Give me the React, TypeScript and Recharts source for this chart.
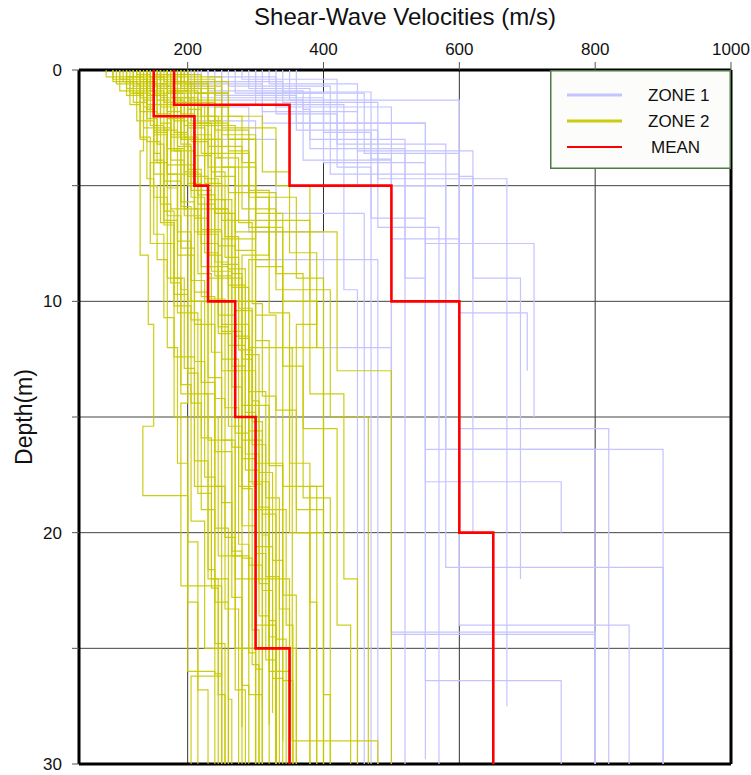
import React from 'react';
import { ScatterChart, Scatter, XAxis, YAxis, ReferenceLine, Legend } from 'recharts';

// each profile: [velocity (m/s), bottom depth of layer (m)], layers start at 0 m
const zone1Profiles: number[][][] = [
  [[210, 0.6], [310, 2.3], [550, 6.8], [570, 30]],
  [[230, 0.9], [370, 1.7], [380, 3.4], [430, 9.5], [450, 30]],
  [[250, 1.3], [370, 3.9], [500, 7.3], [600, 15.5], [820, 30]],
  [[270, 1.0], [400, 2.7], [470, 6.4], [550, 16.4], [800, 30]],
  [[300, 1.5], [430, 3.4], [520, 9.0], [550, 17.8], [750, 20]],
  [[320, 0.6], [450, 3.5], [620, 20]],
  [[340, 1.4], [480, 4.7], [670, 27.5]],
  [[360, 2.3], [550, 7.5], [710, 15]],
  [[200, 0.5], [340, 0.95], [470, 3.85], [500, 24.3], [800, 30]],
  [[220, 1.2], [400, 4.0], [500, 24.4], [800, 30]],
  [[290, 0.8], [380, 3.0], [520, 30]],
  [[310, 1.8], [450, 5.0], [580, 21.5], [900, 30]],
  [[260, 0.7], [410, 4.5], [600, 24], [850, 30]],
  [[240, 1.1], [360, 2.6], [480, 6.8], [550, 26.4], [750, 30]],
  [[330, 1.6], [500, 4.0], [550, 29.8]],
  [[280, 0.4], [420, 3.2], [580, 16.4], [900, 30]],
  [[300, 1.0], [460, 3.6], [600, 10.5], [700, 13]],
  [[230, 0.3], [330, 1.9], [420, 4.2], [470, 30]],
  [[205, 2.2], [300, 8.2], [480, 30]],
  [[215, 1.6], [290, 7.0], [400, 12], [500, 30]],
  [[250, 3.0], [330, 6.2], [460, 30]],
  [[350, 1.3], [600, 4.6], [620, 9], [690, 22]],
];

const zone2Profiles: number[][][] = [
  [[80, 0.3], [120, 1.0], [135, 3.5], [130, 8], [142, 11], [150, 15.4], [134, 18.4], [200, 26], [240, 30]],
  [[90, 0.5], [125, 2.2], [150, 5.5], [170, 9], [190, 14], [230, 22], [260, 30]],
  [[100, 0.4], [140, 1.5], [160, 4.0], [145, 7.5], [180, 12.4], [210, 18], [250, 30]],
  [[110, 0.8], [150, 2.5], [175, 6], [200, 10], [230, 16], [270, 25], [300, 30]],
  [[120, 0.3], [160, 1.2], [190, 3], [210, 7], [250, 11], [290, 19], [330, 30]],
  [[95, 0.6], [130, 1.8], [155, 3.2], [165, 6.5], [185, 10.5], [215, 15], [245, 21], [280, 30]],
  [[130, 0.5], [150, 2.0], [170, 4.5], [220, 8.5], [260, 13], [300, 22], [350, 30]],
  [[140, 0.7], [175, 2.8], [200, 5.0], [230, 9.0], [280, 14.5], [320, 25], [360, 30]],
  [[150, 1.0], [180, 3.5], [210, 6.0], [260, 10], [300, 17], [340, 29]],
  [[160, 0.4], [185, 1.5], [230, 4.2], [300, 7.0], [420, 13], [500, 30]],
  [[170, 0.9], [200, 2.3], [260, 5.3], [330, 9.5], [410, 15], [466, 30]],
  [[175, 1.2], [215, 3.0], [250, 6.5], [380, 10], [390, 12], [350, 20], [380, 30]],
  [[180, 0.5], [230, 2.0], [280, 4.0], [300, 7.3], [250, 13], [270, 22], [300, 30]],
  [[190, 0.8], [240, 2.6], [290, 5.5], [320, 8], [280, 16], [310, 30]],
  [[200, 1.3], [250, 3.8], [240, 6.2], [270, 11.5], [290, 17.8], [320, 26], [350, 30]],
  [[185, 0.2], [220, 1.0], [260, 3.0], [300, 6.8], [340, 12], [354, 29], [480, 30]],
  [[145, 0.3], [165, 1.4], [180, 2.7], [200, 4.6], [230, 8], [250, 12.5], [275, 18], [300, 24], [330, 30]],
  [[105, 0.5], [140, 1.7], [150, 3.6], [160, 5.8], [175, 9.2], [190, 13.6], [205, 19.5], [225, 25], [250, 30]],
  [[115, 1.0], [145, 2.4], [165, 4.8], [190, 7.7], [210, 11], [240, 16.5], [265, 21], [290, 27], [310, 30]],
  [[125, 0.6], [155, 2.0], [175, 3.9], [195, 6.3], [220, 9.8], [240, 14.2], [255, 20.2], [270, 26.8], [285, 30]],
  [[135, 0.4], [160, 1.6], [185, 3.3], [205, 5.2], [235, 8.7], [265, 12.8], [285, 17.3], [305, 23.6], [320, 30]],
  [[155, 0.8], [170, 2.1], [195, 4.4], [215, 7.1], [245, 10.6], [270, 15.7], [290, 21.4], [310, 27.5]],
  [[165, 0.5], [190, 1.9], [210, 3.7], [235, 6.0], [260, 9.3], [285, 14.8], [300, 20.6], [325, 26.3], [340, 30]],
  [[100, 0.9], [130, 2.9], [145, 5.0], [155, 8.2], [170, 12], [185, 17], [200, 23], [215, 30]],
  [[120, 1.4], [140, 3.1], [160, 6.6], [180, 10.2], [205, 14.4], [220, 19], [240, 24.8], [255, 30]],
  [[140, 1.1], [170, 3.4], [190, 5.7], [210, 9.6], [230, 13.3], [250, 18.7], [265, 22.8], [280, 28.4]],
  [[150, 0.2], [175, 0.9], [200, 2.5], [225, 4.9], [250, 8.4], [275, 12.1], [295, 16.2], [315, 21.9], [335, 30]],
  [[110, 0.3], [135, 1.3], [150, 2.6], [170, 4.1], [185, 7.4], [205, 10.8], [220, 15.9], [235, 22.4], [245, 30]],
  [[130, 0.9], [150, 2.7], [170, 5.1], [185, 8.0], [210, 12.6], [225, 17.6], [240, 23], [260, 27.2], [265, 30]],
  [[160, 1.5], [190, 3.0], [215, 5.8], [240, 8.9], [265, 13.7], [280, 18.1], [295, 24.2], [305, 30]],
  [[170, 0.7], [180, 2.2], [200, 4.3], [220, 6.9], [250, 11.3], [280, 16.8], [300, 20.9], [315, 25.5], [330, 30]],
  [[180, 1.0], [195, 2.4], [225, 4.7], [245, 7.6], [270, 10.4], [295, 15.2], [310, 19.2], [330, 24.6], [345, 30]],
  [[195, 0.6], [230, 2.2], [250, 4.2], [270, 7.8], [300, 11.7], [320, 17.1], [340, 22.7], [360, 30]],
  [[125, 0.2], [145, 1.1], [160, 2.3], [175, 3.5], [190, 5.9], [205, 9.1], [225, 14], [240, 19.8], [260, 30]],
  [[90, 0.4], [115, 1.5], [130, 3.0], [140, 4.7], [150, 7.1], [165, 10.7], [180, 15], [200, 20.4], [215, 26.8], [230, 30]],
  [[145, 0.9], [165, 2.6], [185, 4.1], [210, 6.4], [230, 9.9], [255, 14.6], [275, 20.5], [290, 25.2], [300, 30]],
  [[160, 0.3], [180, 1.3], [195, 2.9], [215, 5.4], [240, 8.3], [260, 11.9], [285, 16.6], [305, 22.2], [320, 28.3]],
  [[175, 0.5], [200, 1.7], [220, 3.6], [240, 6.2], [265, 9.4], [290, 13.9], [315, 18.5], [335, 23.3], [350, 30]],
  [[185, 1.2], [210, 2.8], [235, 5.0], [260, 8.6], [285, 12.3], [305, 17.4], [325, 21.2], [340, 26.4], [355, 30]],
  [[135, 1.6], [150, 3.9], [165, 6.1], [180, 9.7], [200, 13.1], [215, 18.3], [235, 22.0], [245, 27.0], [255, 30]],
  [[150, 0.6], [170, 1.8], [190, 3.2], [205, 5.5], [225, 7.9], [245, 11.1], [260, 15.4], [280, 19.7], [300, 25.9], [310, 30]],
  [[110, 1.1], [135, 2.5], [150, 4.5], [165, 6.7], [180, 9.0], [195, 12.9], [210, 16.9], [230, 21.6], [240, 26.1], [250, 30]],
  [[200, 0.8], [220, 2.0], [245, 3.8], [275, 6.6], [295, 10.1], [310, 14.1], [330, 19.0], [345, 24.0], [355, 30]],
  [[170, 0.2], [185, 1.4], [205, 3.1], [230, 5.6], [255, 8.1], [275, 11.6], [290, 15.6], [310, 20.1], [320, 24.5], [330, 30]],
  [[140, 0.5], [155, 1.9], [175, 3.4], [195, 6.0], [215, 8.8], [235, 12.2], [250, 16.0], [265, 20.8], [280, 26.6], [290, 30]],
  [[120, 0.7], [140, 2.1], [155, 4.0], [170, 6.3], [190, 9.5], [200, 14.4], [190, 22.3], [250, 26.2], [205, 30]],
  [[200, 0.4], [240, 1.6], [260, 3.5], [290, 5.2], [320, 8.2], [290, 12], [340, 18], [390, 30]],
  [[210, 1.0], [260, 3.0], [300, 6.2], [340, 10], [380, 14], [400, 27], [410, 30]],
  [[180, 0.3], [250, 2.5], [330, 5.0], [380, 10], [390, 12], [400, 18], [380, 30]],
  [[160, 0.6], [210, 2.0], [240, 4.6], [270, 7.0], [300, 10.6], [330, 14.7], [360, 20], [400, 30]],
  [[195, 0.9], [215, 2.3], [235, 4.4], [255, 7.2], [275, 10.3], [295, 14.3], [305, 18.9], [320, 23.8], [330, 30]],
  [[155, 1.3], [175, 2.9], [200, 4.9], [220, 7.5], [245, 11.4], [265, 16.3], [280, 21.1], [295, 25.7], [305, 30]],
  [[190, 0.5], [205, 1.5], [225, 3.0], [250, 5.6], [265, 8.8], [280, 12.5], [295, 17.9], [310, 22.5], [325, 27.8]],
  [[130, 1.2], [150, 2.8], [170, 4.5], [185, 7.0], [205, 10.0], [220, 13.5], [240, 18.0], [255, 23.3], [275, 30]],
  [[190, 0.7], [250, 2.8], [300, 5.5], [360, 9], [400, 14], [430, 22], [450, 30]],
  [[170, 1.0], [230, 3.3], [280, 6.0], [330, 8.8], [370, 15.5], [420, 24], [440, 30]],
  [[200, 0.5], [260, 2.0], [310, 4.4], [350, 7.9], [390, 11], [360, 19], [400, 30]],
  [[180, 1.4], [240, 3.6], [290, 6.8], [320, 10.5], [350, 17], [380, 23], [390, 30]],
  [[160, 0.8], [220, 2.4], [270, 5.0], [300, 8.5], [340, 12.8], [370, 18.5], [410, 30]],
];

const zone1Mean = [[180, 1.5], [350, 5], [500, 10], [600, 20], [650, 30]];
const zone2Mean = [[150, 2], [210, 5], [230, 10], [270, 15], [300, 25], [350, 30]];

const velocityTicks = [200, 400, 600, 800, 1000];
const velocityGrid = [200, 400, 600, 800];
const depthTicks = [0, 5, 10, 15, 20, 25, 30];
const depthGrid = [5, 10, 15, 20, 25];

const legendItems = [
  { name: 'ZONE 1', color: '#c4c4ff', width: 3 },
  { name: 'ZONE 2', color: '#cccc10', width: 3 },
  { name: 'MEAN', color: '#ff0000', width: 2 },
];

const FONT = '"Liberation Sans", Arial, Helvetica, sans-serif';

const toSteps = (layers: number[][]) => {
  const pts: { v: number; d: number }[] = [];
  let top = 0;
  layers.forEach(([v, bottom]) => {
    pts.push({ v, d: top });
    pts.push({ v, d: bottom });
    top = bottom;
  });
  return pts;
};

const noDot = () => <g />;

const renderLegend = () => (
  <svg width={181} height={99} style={{ display: 'block' }}>
    <rect x={0.75} y={0.75} width={179.5} height={97.5} fill="#fcfdfa" stroke="#4d7a45" strokeWidth={1.5} />
    {legendItems.map((item, i) => (
      <g key={item.name}>
        <line x1={17} x2={72} y1={25 + i * 26} y2={25 + i * 26} stroke={item.color} strokeWidth={item.width} />
        <text x={i === 2 ? 101 : 98} y={25 + i * 26} dy="0.35em" fontFamily={FONT} fontSize={17} fill="#111">
          {item.name}
        </text>
      </g>
    ))}
  </svg>
);

const tickStyle = { fontSize: 17, fill: '#111', fontFamily: FONT };

export default function App() {
  return (
    <div style={{ position: 'absolute', left: 0, top: 0, background: '#fff' }}>
      <ScatterChart width={751} height={775} margin={{ top: 0, right: 0, bottom: 0, left: 0 }}>
        <XAxis
          xAxisId="top"
          orientation="top"
          type="number"
          dataKey="v"
          domain={[40, 1000]}
          ticks={velocityTicks}
          height={70}
          tickSize={8}
          tickMargin={7}
          tick={tickStyle}
          axisLine={{ stroke: '#000', strokeWidth: 3 }}
          tickLine={{ stroke: '#555' }}
          label={{
            value: 'Shear-Wave Velocities (m/s)',
            position: 'insideTop',
            offset: 8,
            style: { fontSize: 24, fill: '#111', fontFamily: FONT },
          }}
        />
        <XAxis
          xAxisId="bottom"
          orientation="bottom"
          type="number"
          domain={[40, 1000]}
          ticks={velocityTicks}
          height={11}
          tickSize={8}
          tickFormatter={() => ''}
          axisLine={{ stroke: '#000', strokeWidth: 3 }}
          tickLine={{ stroke: '#555' }}
        />
        <YAxis
          yAxisId="left"
          type="number"
          dataKey="d"
          reversed
          domain={[0, 30]}
          ticks={depthTicks}
          width={79}
          tickSize={7}
          tickMargin={10}
          tick={tickStyle}
          tickFormatter={(t: number) => (t % 10 === 0 ? String(t) : '')}
          axisLine={{ stroke: '#000', strokeWidth: 3 }}
          tickLine={{ stroke: '#555' }}
          label={{
            value: 'Depth(m)',
            angle: -90,
            position: 'insideLeft',
            offset: 24,
            style: { fontSize: 23, fill: '#111', fontFamily: FONT, textAnchor: 'middle' },
          }}
        />
        <YAxis
          yAxisId="right"
          orientation="right"
          type="number"
          reversed
          domain={[0, 30]}
          ticks={depthTicks}
          width={20}
          tickSize={6}
          tickFormatter={() => ''}
          axisLine={{ stroke: '#000', strokeWidth: 3 }}
          tickLine={{ stroke: '#555' }}
        />

        {zone1Profiles.map((p, i) => (
          <Scatter
            key={`z1-${i}`}
            xAxisId="top"
            yAxisId="left"
            data={toSteps(p)}
            fill="#c4c4ff"
            line={{ stroke: '#c4c4ff', strokeWidth: 1.2 }}
            lineType="joint"
            shape={noDot}
            legendType="none"
            isAnimationActive={false}
          />
        ))}
        {zone2Profiles.map((p, i) => (
          <Scatter
            key={`z2-${i}`}
            xAxisId="top"
            yAxisId="left"
            data={toSteps(p)}
            fill="#c8c800"
            line={{ stroke: '#c8c800', strokeWidth: 1.2, strokeOpacity: 0.9 }}
            lineType="joint"
            shape={noDot}
            legendType="none"
            isAnimationActive={false}
          />
        ))}

        {velocityGrid.map((v) => (
          <ReferenceLine key={`gx-${v}`} xAxisId="top" yAxisId="left" x={v} stroke="#333" strokeWidth={1} />
        ))}
        {depthGrid.map((d) => (
          <ReferenceLine key={`gy-${d}`} xAxisId="top" yAxisId="left" y={d} stroke="#444" strokeWidth={1} />
        ))}

        {[zone1Mean, zone2Mean].map((p, i) => (
          <Scatter
            key={`mean-${i}`}
            xAxisId="top"
            yAxisId="left"
            data={toSteps(p)}
            fill="#ff0000"
            line={{ stroke: '#ff0000', strokeWidth: 2.6 }}
            lineType="joint"
            shape={noDot}
            legendType="none"
            isAnimationActive={false}
          />
        ))}

        <Legend
          layout="vertical"
          align="center"
          verticalAlign="middle"
          content={renderLegend}
          wrapperStyle={{ left: 550, top: 70, width: 181, height: 99 }}
        />
      </ScatterChart>
    </div>
  );
}
